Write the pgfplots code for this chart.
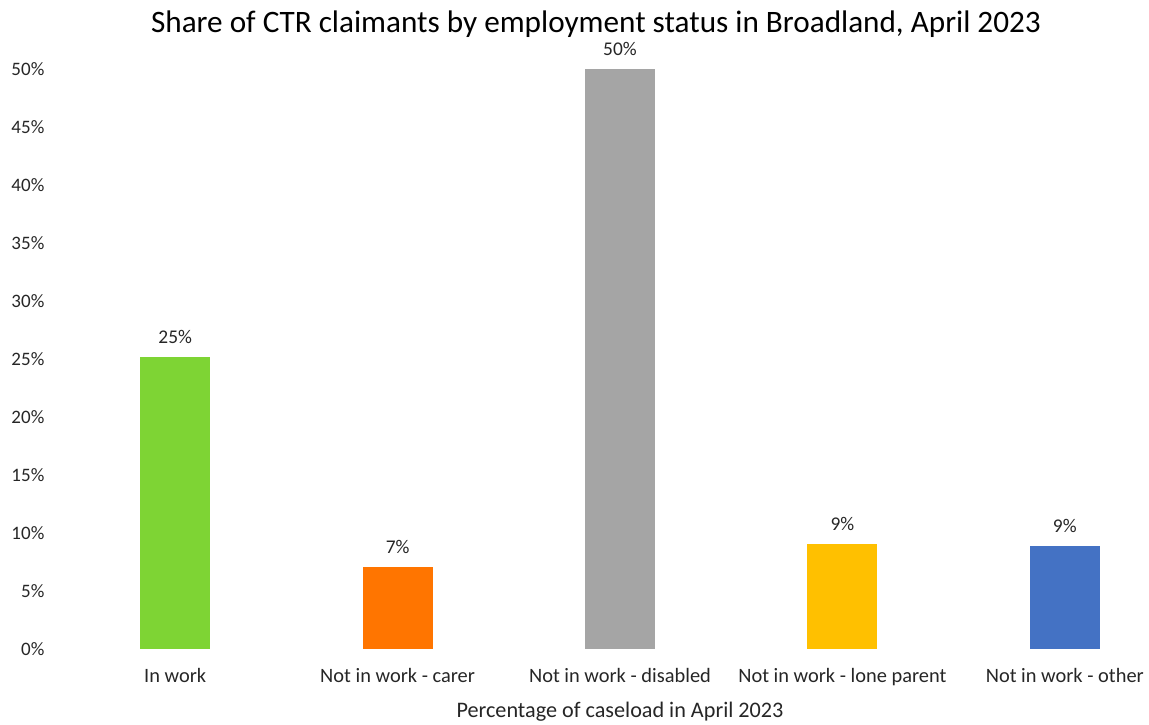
\documentclass[border=0pt]{standalone}
\usepackage{pgfplots}
\pgfplotsset{compat=1.18}
\usepackage{fontspec}
\setmainfont{Carlito}
\definecolor{cgreen}{HTML}{7ED434}
\definecolor{corange}{HTML}{FF7500}
\definecolor{cgrey}{HTML}{A5A5A5}
\definecolor{cyellow}{HTML}{FFC000}
\definecolor{cblue}{HTML}{4472C4}
\definecolor{ctext}{HTML}{262626}
\begin{document}
\begin{tikzpicture}
\begin{axis}[
  at={(0,0)}, anchor=south west,
  scale only axis,
  width=556pt, height=290pt,
  xmin=-0.5, xmax=4.5,
  ymin=0, ymax=50,
  ybar, bar width=35pt, bar shift=0pt,
  axis line style={draw=none},
  tick style={draw=none},
  xtick={0,1,2,3,4},
  xticklabels={In work, Not in work - carer, Not in work - disabled, Not in work - lone parent, Not in work - other},
  ytick={0,5,...,50},
  yticklabel={\pgfmathprintnumber{\tick}\%},
  /pgf/number format/assume math mode=true,
  yticklabel style={xshift=-6.3pt, font=\fontsize{9.5pt}{11pt}\selectfont, text=ctext},
  xticklabel style={yshift=-2pt, font=\fontsize{10.2pt}{12pt}\selectfont, text=ctext},
  xlabel={Percentage of caseload in April 2023},
  xlabel style={at={(axis description cs:0.5,0)}, anchor=center, yshift=-31.5pt, font=\fontsize{11.1pt}{13pt}\selectfont, text=ctext},
  nodes near coords={\pgfmathprintnumber[fixed,precision=0]{\pgfplotspointmeta}\%},
  nodes near coords style={font=\fontsize{9.7pt}{11pt}\selectfont, text=ctext, yshift=3pt},
  clip=false,
]
\addplot[fill=cgreen, draw=none] coordinates {(0,25.2)};
\addplot[fill=corange, draw=none] coordinates {(1,7.07)};
\addplot[fill=cgrey, draw=none] coordinates {(2,50.0)};
\addplot[fill=cyellow, draw=none] coordinates {(3,9.05)};
\addplot[fill=cblue, draw=none] coordinates {(4,8.9)};
\end{axis}
\node[font=\fontsize{15.6pt}{18pt}\selectfont, text=black] at (266pt,312.5pt) {Share of CTR claimants by employment status in Broadland, April 2023};
\pgfresetboundingbox
\useasboundingbox (-32pt,-37.5pt) rectangle (542.5pt,324.5pt);
\end{tikzpicture}
\end{document}
